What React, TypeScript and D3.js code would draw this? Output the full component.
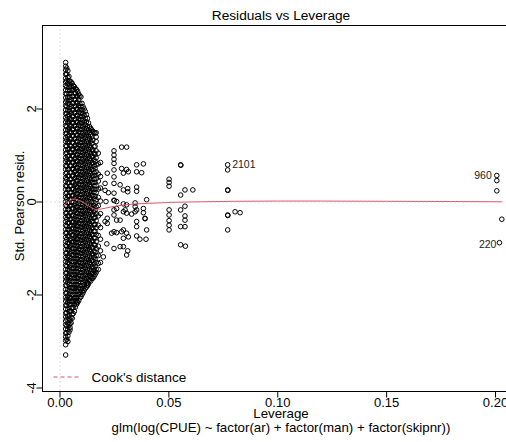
import React from 'react';
import * as d3 from 'd3';

const W = 506;
const H = 442;

const xTicks = [0, 0.05, 0.1, 0.15, 0.2];
const xTickLabels = ['0.00', '0.05', '0.10', '0.15', '0.20'];
const yTicks = [-4, -2, 0, 2];
const yTickLabels = ['-4', '-2', '0', '2'];

// Dense core of the cloud: leverage columns and their standardized Pearson residuals
const blobLeverage = [0.0026, 0.0036, 0.0046, 0.0056, 0.0066, 0.0076, 0.0086, 0.0096, 0.0106, 0.0116, 0.0126, 0.0136, 0.0146, 0.0156, 0.0166, 0.0176, 0.0186];
const blobResiduals = [
  [3.0, 2.92, 2.84, 2.75, 2.66, 2.58, 2.5, 2.41, 2.33, 2.24, 2.15, 2.07, 1.98, 1.9, 1.81, 1.72, 1.64, 1.55, 1.47, 1.38, 1.3, 1.21, 1.12, 1.04, 0.95, 0.87, 0.78, 0.7, 0.61, 0.52, 0.44, 0.35, 0.27, 0.18, 0.1, 0.01, -0.07, -0.16, -0.24, -0.33, -0.42, -0.5, -0.59, -0.67, -0.76, -0.85, -0.93, -1.02, -1.1, -1.19, -1.28, -1.36, -1.45, -1.53, -1.62, -1.7, -1.79, -1.88, -1.96, -2.05, -2.13, -2.22, -2.3, -2.39, -2.47, -2.56, -2.64, -2.73, -2.82, -2.9, -2.98, -3.07, -3.29],
  [2.82, 2.68, 2.55, 2.4, 2.26, 2.12, 1.97, 1.84, 1.7, 1.55, 1.41, 1.27, 1.13, 0.98, 0.84, 0.7, 0.56, 0.41, 0.27, 0.13, -0.02, -0.16, -0.3, -0.45, -0.59, -0.73, -0.88, -1.02, -1.16, -1.3, -1.45, -1.59, -1.73, -1.88, -2.02, -2.16, -2.31, -2.45, -2.6, -2.74, -2.88, -3.0],
  [2.6, 2.52, 2.4, 2.25, 2.1, 1.95, 1.8, 1.66, 1.52, 1.37, 1.22, 1.08, 0.93, 0.78, 0.63, 0.49, 0.34, 0.2, 0.05, -0.09, -0.24, -0.38, -0.53, -0.67, -0.82, -0.97, -1.11, -1.26, -1.4, -1.55, -1.69, -1.84, -1.98, -2.05, -2.13, -2.2, -2.35, -2.54, -2.62, -2.7, -2.75],
  [2.55, 2.41, 2.27, 2.13, 1.98, 1.84, 1.7, 1.56, 1.42, 1.28, 1.13, 0.99, 0.85, 0.71, 0.56, 0.42, 0.28, 0.14, 0.0, -0.14, -0.29, -0.43, -0.57, -0.71, -0.86, -1.0, -1.14, -1.28, -1.43, -1.57, -1.71, -1.85, -2.0, -2.14, -2.28, -2.42, -2.5],
  [2.48, 2.34, 2.2, 2.05, 1.91, 1.77, 1.63, 1.49, 1.35, 1.2, 1.06, 0.92, 0.78, 0.64, 0.5, 0.35, 0.21, 0.07, -0.07, -0.21, -0.36, -0.5, -0.64, -0.78, -0.92, -1.07, -1.21, -1.35, -1.49, -1.63, -1.78, -1.92, -2.06, -2.2, -2.35],
  [2.42, 2.28, 2.14, 2.0, 1.86, 1.72, 1.58, 1.44, 1.3, 1.16, 1.02, 0.88, 0.74, 0.6, 0.46, 0.32, 0.18, 0.04, -0.1, -0.24, -0.38, -0.52, -0.66, -0.8, -0.94, -1.08, -1.22, -1.36, -1.5, -1.64, -1.78, -1.92, -2.06, -2.15, -2.2],
  [2.32, 2.2, 2.07, 1.93, 1.79, 1.65, 1.51, 1.37, 1.23, 1.09, 0.95, 0.81, 0.67, 0.53, 0.39, 0.25, 0.11, -0.03, -0.17, -0.31, -0.45, -0.59, -0.73, -0.87, -1.01, -1.15, -1.29, -1.43, -1.57, -1.71, -1.85, -1.99, -2.12],
  [2.26, 2.05, 1.91, 1.77, 1.63, 1.49, 1.35, 1.21, 1.07, 0.93, 0.79, 0.65, 0.51, 0.37, 0.23, 0.09, -0.05, -0.19, -0.33, -0.47, -0.61, -0.75, -0.89, -1.03, -1.17, -1.31, -1.45, -1.59, -1.73, -1.87, -2.04],
  [2.05, 1.9, 1.76, 1.62, 1.48, 1.34, 1.2, 1.06, 0.92, 0.78, 0.64, 0.5, 0.36, 0.22, 0.08, -0.06, -0.2, -0.34, -0.48, -0.62, -0.76, -0.9, -1.04, -1.18, -1.32, -1.46, -1.6, -1.74, -1.86, -1.95],
  [1.95, 1.8, 1.66, 1.52, 1.38, 1.24, 1.1, 0.96, 0.82, 0.68, 0.54, 0.4, 0.26, 0.12, -0.02, -0.16, -0.3, -0.44, -0.58, -0.72, -0.86, -1.0, -1.14, -1.28, -1.42, -1.56, -1.7, -1.86],
  [1.8, 1.62, 1.48, 1.34, 1.2, 1.06, 0.92, 0.78, 0.64, 0.5, 0.36, 0.22, 0.08, -0.06, -0.2, -0.34, -0.48, -0.62, -0.76, -0.9, -1.04, -1.18, -1.32, -1.46, -1.6, -1.74, -1.8],
  [1.62, 1.5, 1.36, 1.22, 1.08, 0.94, 0.8, 0.66, 0.52, 0.38, 0.24, 0.1, -0.04, -0.18, -0.32, -0.46, -0.6, -0.74, -0.88, -1.02, -1.16, -1.3, -1.44, -1.58, -1.68],
  [1.55, 1.4, 1.26, 1.12, 0.98, 0.84, 0.7, 0.56, 0.42, 0.28, 0.14, 0.0, -0.14, -0.28, -0.42, -0.56, -0.7, -0.84, -0.98, -1.12, -1.26, -1.4, -1.54, -1.64],
  [1.5, 1.19, 1.05, 0.91, 0.77, 0.63, 0.49, 0.35, 0.21, 0.07, -0.07, -0.21, -0.35, -0.49, -0.63, -0.77, -0.91, -1.05, -1.19, -1.33, -1.47, -1.6],
  [1.49, 1.4, 1.3, 1.1, 0.95, 0.8, 0.65, 0.5, 0.35, 0.2, 0.05, -0.1, -0.25, -0.4, -0.55, -0.7, -0.85, -1.0, -1.15, -1.3, -1.45, -1.52],
  [1.05, 0.82, 0.6, 0.45, 0.28, 0.1, -0.08, -0.3, -0.5, -0.72, -0.95, -1.15, -1.32, -1.45],
  [0.85, 0.55, 0.3, 0.02, -0.25, -0.55, -0.8, -1.05, -1.3],
];

// Second set of core columns lying between the first ones
const blobLeverage2 = [0.0031, 0.0041, 0.0051, 0.0061, 0.0071, 0.0081, 0.0091, 0.0101, 0.0111, 0.0121, 0.0131, 0.0141, 0.0151, 0.0161];
const blobResiduals2 = [
  [2.88, 2.75, 2.61, 2.47, 2.33, 2.19, 2.05, 1.91, 1.77, 1.62, 1.48, 1.34, 1.2, 1.06, 0.91, 0.77, 0.63, 0.49, 0.34, 0.2, 0.06, -0.09, -0.23, -0.37, -0.52, -0.66, -0.8, -0.95, -1.09, -1.23, -1.38, -1.52, -1.66, -1.8, -1.95, -2.09, -2.23, -2.38, -2.52, -2.67, -2.81, -2.95],
  [2.7, 2.6, 2.47, 2.33, 2.18, 2.03, 1.88, 1.73, 1.59, 1.44, 1.3, 1.15, 1.0, 0.86, 0.71, 0.56, 0.42, 0.27, 0.12, -0.02, -0.16, -0.31, -0.45, -0.6, -0.75, -0.9, -1.04, -1.19, -1.33, -1.48, -1.62, -1.77, -1.91, -2.06, -2.2, -2.35, -2.5, -2.64, -2.8],
  [2.58, 2.48, 2.34, 2.2, 2.06, 1.91, 1.77, 1.63, 1.49, 1.35, 1.2, 1.06, 0.92, 0.78, 0.64, 0.49, 0.35, 0.21, 0.07, -0.07, -0.22, -0.36, -0.5, -0.64, -0.79, -0.93, -1.07, -1.21, -1.36, -1.5, -1.64, -1.78, -1.92, -2.07, -2.21, -2.35, -2.48, -2.6],
  [2.5, 2.41, 2.27, 2.12, 1.98, 1.84, 1.7, 1.56, 1.42, 1.27, 1.13, 0.99, 0.85, 0.71, 0.57, 0.42, 0.28, 0.14, 0.0, -0.14, -0.29, -0.43, -0.57, -0.71, -0.85, -1.0, -1.14, -1.28, -1.42, -1.56, -1.71, -1.85, -1.99, -2.13, -2.27, -2.4],
  [2.44, 2.35, 2.21, 2.07, 1.93, 1.79, 1.65, 1.51, 1.37, 1.23, 1.09, 0.95, 0.81, 0.67, 0.53, 0.39, 0.25, 0.11, -0.03, -0.17, -0.31, -0.45, -0.59, -0.73, -0.87, -1.01, -1.15, -1.29, -1.43, -1.57, -1.71, -1.85, -1.99, -2.13, -2.26],
  [2.38, 2.26, 2.13, 2.0, 1.86, 1.72, 1.58, 1.44, 1.3, 1.16, 1.02, 0.88, 0.74, 0.6, 0.46, 0.32, 0.18, 0.04, -0.1, -0.24, -0.38, -0.52, -0.66, -0.8, -0.94, -1.08, -1.22, -1.36, -1.5, -1.64, -1.78, -1.92, -2.05, -2.16],
  [2.28, 2.12, 1.98, 1.84, 1.7, 1.56, 1.42, 1.28, 1.14, 1.0, 0.86, 0.72, 0.58, 0.44, 0.3, 0.16, 0.02, -0.12, -0.26, -0.4, -0.54, -0.68, -0.82, -0.96, -1.1, -1.24, -1.38, -1.52, -1.66, -1.8, -1.94, -2.06],
  [2.12, 1.98, 1.84, 1.7, 1.56, 1.42, 1.28, 1.14, 1.0, 0.86, 0.72, 0.58, 0.44, 0.3, 0.16, 0.02, -0.12, -0.26, -0.4, -0.54, -0.68, -0.82, -0.96, -1.1, -1.24, -1.38, -1.52, -1.66, -1.8, -1.92, -1.99],
  [2.0, 1.86, 1.72, 1.58, 1.44, 1.3, 1.16, 1.02, 0.88, 0.74, 0.6, 0.46, 0.32, 0.18, 0.04, -0.1, -0.24, -0.38, -0.52, -0.66, -0.8, -0.94, -1.08, -1.22, -1.36, -1.5, -1.64, -1.78, -1.9],
  [1.88, 1.72, 1.58, 1.44, 1.3, 1.16, 1.02, 0.88, 0.74, 0.6, 0.46, 0.32, 0.18, 0.04, -0.1, -0.24, -0.38, -0.52, -0.66, -0.8, -0.94, -1.08, -1.22, -1.36, -1.5, -1.64, -1.76, -1.83],
  [1.7, 1.55, 1.41, 1.27, 1.13, 0.99, 0.85, 0.71, 0.57, 0.43, 0.29, 0.15, 0.01, -0.13, -0.27, -0.41, -0.55, -0.69, -0.83, -0.97, -1.11, -1.25, -1.39, -1.53, -1.66, -1.76],
  [1.58, 1.45, 1.31, 1.17, 1.03, 0.89, 0.75, 0.61, 0.47, 0.33, 0.19, 0.05, -0.09, -0.23, -0.37, -0.51, -0.65, -0.79, -0.93, -1.07, -1.21, -1.35, -1.49, -1.61, -1.7],
  [1.52, 1.33, 1.12, 0.98, 0.84, 0.7, 0.56, 0.42, 0.28, 0.14, 0.0, -0.14, -0.28, -0.42, -0.56, -0.7, -0.84, -0.98, -1.12, -1.26, -1.4, -1.54, -1.64],
  [1.48, 1.2, 1.02, 0.87, 0.72, 0.57, 0.42, 0.27, 0.12, -0.03, -0.18, -0.33, -0.48, -0.63, -0.78, -0.93, -1.08, -1.23, -1.38, -1.5, -1.56],
];

// Sparse points (higher leverage)
const sparseLeverage = [
  0.0283, 0.0306,
  0.0248, 0.0248, 0.0248, 0.0248, 0.0248, 0.0248, 0.0248, 0.0248, 0.0248, 0.0249, 0.0248, 0.0248, 0.0248, 0.0248,
  0.0217, 0.0222, 0.0207, 0.0207,
  0.0283, 0.0291, 0.0306, 0.0314,
  0.0352, 0.0383, 0.0352, 0.0375,
  0.0501, 0.0501, 0.0501,
  0.0554, 0.0555,
  0.0554, 0.0574, 0.0610,
  0.0770, 0.0770,
  0.0770, 0.0771,
  0.0770, 0.0771, 0.0804, 0.0827,
  0.0770,
  0.0501, 0.0501, 0.0501, 0.0501, 0.0501,
  0.0554, 0.0574, 0.0574, 0.0574, 0.0554, 0.0574,
  0.0554, 0.0576,
  0.0352, 0.0352,
  0.0311, 0.0311,
  0.0398,
  0.0390, 0.0391,
  0.0345, 0.0345,
  0.0291, 0.0306,
  0.0260,
  0.0211,
  0.0291, 0.0306, 0.0329, 0.0345, 0.0352,
  0.0383, 0.0383,
  0.0217, 0.0217,
  0.0260, 0.0276,
  0.0352, 0.0352, 0.0352,
  0.0260, 0.0283, 0.0291,
  0.0398,
  0.0291, 0.0314,
  0.0367, 0.0395,
  0.0276, 0.0291,
  0.0199, 0.0306, 0.0311,
  0.0215,
  0.0276, 0.0291,
  0.0207, 0.0237, 0.0306,
  0.0260, 0.0299,
  0.2006, 0.2006, 0.2006, 0.2029, 0.2018,
];
const sparseResid = [
  1.18, 1.18,
  1.10, 1.01, 0.92, 0.83, 0.69, 0.54, 0.40, 0.19, 0.04, 0.03, -0.17, -0.28, -0.64, -1.0,
  0.62, 0.20, 0.40, 0.25,
  0.72, 0.62, 0.70, 0.65,
  0.80, 0.82, 0.65, 0.63,
  0.49, 0.42, 0.34,
  0.80, 0.79,
  0.15, 0.26, 0.26,
  0.80, 0.69,
  0.26, 0.25,
  -0.28, -0.29, -0.21, -0.23,
  -0.60,
  -0.17, -0.28, -0.40, -0.50, -0.60,
  -0.17, -0.09, -0.30, -0.39, -0.53, -0.53,
  -0.92, -0.95,
  0.32, 0.23,
  0.29, 0.22,
  0.05,
  -0.35, -0.36,
  -0.02, -0.10,
  -0.04, -0.06,
  0.01,
  0.01,
  -0.21, -0.24, -0.26, -0.21, -0.17,
  -0.14, -0.23,
  -0.35, -0.46,
  -0.39, -0.39,
  -0.42, -0.53, -0.73,
  -0.66, -0.64, -0.60,
  -0.60,
  -0.78, -0.75,
  -0.80, -0.80,
  -0.96, -0.96,
  -1.18, -1.14, -1.05,
  -0.90,
  0.37, 0.26,
  -0.42, -0.67, -0.67,
  -0.14, -0.17,
  0.57, 0.46, 0.24, -0.37, -0.875,
];

// Smoothed trend line
const smoothLeverage = [0.0015, 0.0035, 0.0065, 0.0095, 0.013, 0.0165, 0.019, 0.023, 0.03, 0.04, 0.05, 0.065, 0.08, 0.1, 0.12, 0.15, 0.18, 0.2029];
const smoothResid = [-0.10, 0.0, 0.06, 0.02, -0.08, -0.16, -0.15, -0.11, -0.06, -0.03, -0.01, 0.005, 0.015, 0.02, 0.02, 0.015, 0.01, 0.005];

// Labelled observations
const idLabels = ['2101', '960', '220'];
const idLeverage = [0.0770, 0.2006, 0.2018];
const idResid = [0.80, 0.57, -0.875];
const idSide = ['right', 'left', 'left'];

const FONT = "'Liberation Sans', Arial, Helvetica, sans-serif";
const RED = '#DF536B';

export default function App() {
  const x = d3.scaleLinear().domain([0, 0.2]).range([60, 495.5]);
  const y = d3.scaleLinear().domain([0, 2]).range([202, 109]);
  const left = 42.5;
  const top = 25.5;
  const right = 521;
  const bottom = 391.5;

  const blobPts: [number, number][] = [];
  blobLeverage.forEach((lv, i) => {
    blobResiduals[i].forEach((r) => blobPts.push([lv, r]));
  });
  blobLeverage2.forEach((lv, i) => {
    blobResiduals2[i].forEach((r) => blobPts.push([lv, r]));
  });
  const sparsePts: [number, number][] = sparseLeverage.map((lv, i) => [lv, sparseResid[i]]);

  const smoothPath = d3
    .line<number>()
    .x((_, i) => x(smoothLeverage[i]))
    .y((d) => y(d))
    .curve(d3.curveMonotoneX)(smoothResid) as string;

  const R = 2.3;

  return (
    <svg
      width={W}
      height={H}
      style={{ position: 'absolute', left: 0, top: 0, background: '#fff' }}
      fontFamily={FONT}
    >
      <rect x={0} y={0} width={W} height={H} fill="#fff" />
      <text x={281} y={20} fontSize={13.7} textAnchor="middle" fill="#000">
        Residuals vs Leverage
      </text>

      <g fill="none" stroke="#000" strokeWidth={1}>
        {blobPts.map((p, i) => (
          <circle key={'b' + i} cx={x(p[0])} cy={y(p[1])} r={R} />
        ))}
        {sparsePts.map((p, i) => (
          <circle key={'s' + i} cx={x(p[0])} cy={y(p[1])} r={R} />
        ))}
      </g>

      <path d={smoothPath} fill="none" stroke={RED} strokeWidth={1} />

      <line x1={left} x2={right} y1={y(0)} y2={y(0)} stroke="#bebebe" strokeWidth={1} strokeDasharray="1,3" />
      <line x1={x(0)} x2={x(0)} y1={top} y2={bottom} stroke="#bebebe" strokeWidth={1} strokeDasharray="1,3" />

      <rect x={left} y={top} width={right - left} height={bottom - top} fill="none" stroke="#000" strokeWidth={1} />

      <g>
        {yTicks.map((t, i) => (
          <g key={'yt' + i}>
            <line x1={36.5} x2={left} y1={y(t)} y2={y(t)} stroke="#000" strokeWidth={1} />
            <text
              transform={`translate(36,${y(t)}) rotate(-90)`}
              textAnchor="middle"
              fontSize={13}
              fill="#000"
            >
              {yTickLabels[i]}
            </text>
          </g>
        ))}
      </g>

      <g>
        {xTicks.map((t, i) => (
          <g key={'xt' + i}>
            <line x1={x(t)} x2={x(t)} y1={bottom} y2={bottom + 6} stroke="#000" strokeWidth={1} />
            <text x={x(t)} y={406.5} textAnchor="middle" fontSize={13} fill="#000">
              {xTickLabels[i]}
            </text>
          </g>
        ))}
      </g>

      <text x={281} y={418} textAnchor="middle" fontSize={13.3} fill="#000">
        Leverage
      </text>
      <text x={281} y={432} textAnchor="middle" fontSize={13.3} fill="#000">
        glm(log(CPUE) ~ factor(ar) + factor(man) + factor(skipnr))
      </text>
      <text transform="translate(24,206) rotate(-90)" textAnchor="middle" fontSize={13} fill="#000">
        Std. Pearson resid.
      </text>

      <line x1={53.5} x2={80} y1={377} y2={377} stroke={RED} strokeWidth={1} strokeDasharray="4,3" />
      <text x={91.5} y={381.5} fontSize={13.5} fill="#000">
        Cook's distance
      </text>

      {idLabels.map((lab, i) => {
        const px = x(idLeverage[i]);
        const py = y(idResid[i]);
        const isRight = idSide[i] === 'right';
        return (
          <text
            key={'id' + i}
            x={isRight ? px + 4.5 : px - (i === 2 ? 3 : 5)}
            y={py + (i === 2 ? 5.5 : 3.5)}
            textAnchor={isRight ? 'start' : 'end'}
            fontSize={10.5}
            fill="#222"
          >
            {lab}
          </text>
        );
      })}
    </svg>
  );
}
